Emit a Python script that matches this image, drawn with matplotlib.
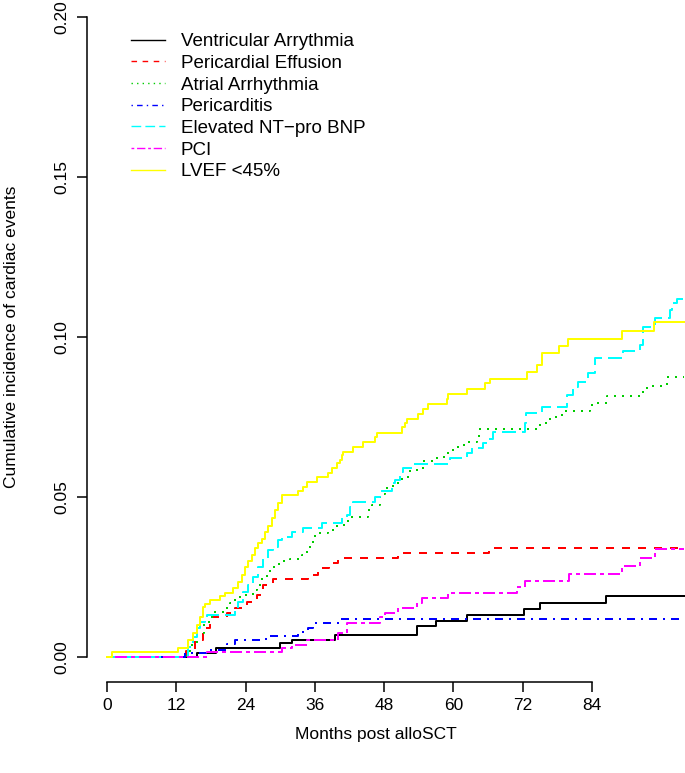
import matplotlib
matplotlib.use("Agg")
import matplotlib.pyplot as plt
from matplotlib.lines import Line2D

plt.rcParams['font.family'] = ['Liberation Sans', 'DejaVu Sans']

# months post alloSCT / cumulative incidence (step curves)
va_t = [0, 15.6, 18.8, 30.0, 32.0, 39.5, 53.7, 57.0, 62.3, 72.2, 75.0, 86.5, 100]
va_v = [0, 0.0014, 0.0028, 0.0043, 0.0052, 0.0069, 0.0097, 0.0113, 0.0130, 0.0149, 0.0170, 0.0192, 0.0192]

pe_t = [0, 13.6, 15.2, 16.6, 17.8, 20.7, 22.2, 24.2, 26.0, 27.1, 28.8, 34.8, 36.5, 38.5, 40.0, 50.4, 66.2, 100]
pe_v = [0, 0.002, 0.0053, 0.009, 0.0125, 0.0137, 0.0153, 0.0172, 0.0194, 0.0225, 0.0244, 0.0256, 0.0278,
        0.0293, 0.0308, 0.0324, 0.0342, 0.0342]

aa_t = [0, 13.8, 14.7, 15.6, 16.8, 18.2, 20.4, 21.3, 22.2, 23.0, 25.3, 26.0, 26.5, 27.7, 28.2, 29.1, 30.3,
        31.7, 33.8, 34.6, 35.5, 36.0, 38.3, 39.8, 41.7, 45.2, 45.9, 47.3, 48.1, 49.5, 51.1, 52.1, 53.3, 54.7,
        57.2, 59.1, 60.8, 62.3, 64.1, 64.4, 75.0, 76.7, 78.8, 83.7, 84.9, 86.6, 92.8, 93.7, 97.0, 100]
aa_v = [0, 0.002, 0.0044, 0.0075, 0.011, 0.014, 0.0153, 0.0169, 0.018, 0.0194, 0.021, 0.022, 0.0244, 0.026,
        0.028, 0.029, 0.030, 0.0306, 0.0319, 0.0344, 0.036, 0.0387, 0.0397, 0.0412, 0.0438, 0.046, 0.0475,
        0.051, 0.0528, 0.0544, 0.056, 0.058, 0.0584, 0.0613, 0.0625, 0.0647, 0.0662, 0.0672, 0.0687, 0.0712,
        0.073, 0.075, 0.077, 0.0788, 0.0794, 0.0816, 0.084, 0.0847, 0.0875, 0.0875]

pc_t = [0, 13.5, 17.8, 20.8, 22.2, 27.5, 33.1, 34.8, 35.7, 40.4, 100]
pc_v = [0, 0.0012, 0.0022, 0.0040, 0.0053, 0.0065, 0.0078, 0.009, 0.0106, 0.0119, 0.0119]

bnp_t = [0, 14.0, 14.9, 15.6, 16.1, 17.0, 17.3, 22.2, 22.7, 23.6, 24.4, 25.3, 26.2, 27.0, 27.9, 28.8, 29.6,
         30.3, 32.0, 33.9, 37.2, 40.7, 41.6, 42.1, 42.6, 46.4, 47.3, 49.4, 49.9, 50.7, 51.3, 52.8, 59.4, 62.3,
         63.2, 65.1, 65.8, 66.9, 72.4, 72.6, 75.3, 79.7, 80.7, 81.6, 83.3, 84.5, 89.4, 92.3, 92.8, 94.9, 97.5,
         97.9, 98.7, 100]
bnp_v = [0, 0.003, 0.0063, 0.009, 0.011, 0.0125, 0.013, 0.0153, 0.0172, 0.0203, 0.0225, 0.025, 0.028, 0.031,
         0.0334, 0.0344, 0.0366, 0.0375, 0.039, 0.0403, 0.0419, 0.0434, 0.0444, 0.047, 0.0484, 0.050, 0.052,
         0.0544, 0.0553, 0.0578, 0.059, 0.0603, 0.0622, 0.0637, 0.0653, 0.0669, 0.068, 0.0703, 0.073, 0.0762,
         0.078, 0.0819, 0.0844, 0.086, 0.0887, 0.0934, 0.0956, 0.0975, 0.103, 0.106, 0.1084, 0.1106, 0.112, 0.112]

pci_t = [0, 17.3, 30.3, 32.0, 34.6, 40.0, 41.6, 47.3, 48.1, 50.4, 53.7, 54.6, 59.1, 71.0, 72.4, 80.0, 89.2,
         92.3, 94.9, 100]
pci_v = [0, 0.0017, 0.0028, 0.0037, 0.0053, 0.0075, 0.0106, 0.0126, 0.0138, 0.0153, 0.0169, 0.0184, 0.020,
         0.022, 0.0237, 0.026, 0.0284, 0.031, 0.0337, 0.0337]

lv_t = [0, 0.8, 12.3, 14.0, 14.9, 15.6, 16.1, 16.6, 17.0, 17.8, 19.6, 20.4, 21.8, 22.7, 23.4, 23.9, 24.4, 25.1,
        25.6, 26.2, 26.8, 27.4, 27.9, 28.6, 29.1, 29.6, 30.3, 33.1, 33.9, 34.6, 36.4, 38.3, 39.0, 39.8, 40.4,
        40.7, 40.9, 42.6, 44.3, 46.4, 46.8, 51.1, 51.6, 52.0, 53.9, 54.7, 55.6, 58.9, 59.1, 62.3, 65.5, 66.3,
        72.7, 74.5, 75.3, 78.3, 79.8, 89.2, 94.7, 100]
lv_v = [0, 0.0017, 0.0028, 0.0053, 0.0075, 0.010, 0.0125, 0.0156, 0.0166, 0.0178, 0.019, 0.020, 0.0216, 0.0234,
        0.0256, 0.028, 0.030, 0.032, 0.034, 0.0356, 0.037, 0.039, 0.041, 0.0434, 0.046, 0.048, 0.0506, 0.052,
        0.053, 0.0548, 0.0562, 0.0575, 0.059, 0.0606, 0.0616, 0.063, 0.064, 0.0656, 0.0672, 0.0688, 0.070,
        0.0718, 0.073, 0.0744, 0.076, 0.0775, 0.079, 0.0806, 0.0822, 0.0838, 0.0856, 0.087, 0.089, 0.0912,
        0.095, 0.0972, 0.0994, 0.102, 0.1048, 0.1048]

labels = ["Ventricular Arrythmia", "Pericardial Effusion", "Atrial Arrhythmia", "Pericarditis",
          "Elevated NT\u2212pro BNP", "PCI", "LVEF <45%"]
colors = ["#000000", "#FF0000", "#00CD00", "#0000FF", "#00FFFF", "#FF00FF", "#FFFF00"]
# R lty 1..6, then solid again
styles = ["-", (0, (4, 4)), (0, (1, 3)), (0, (1, 3, 4, 3)), (0, (7, 3)), (0, (2, 2, 6, 2)), "-"]
curves = [(va_t, va_v), (pe_t, pe_v), (aa_t, aa_v), (pc_t, pc_v), (bnp_t, bnp_v), (pci_t, pci_v), (lv_t, lv_v)]

W, H = 685, 773
fig = plt.figure(figsize=(W / 100, H / 100), dpi=100)
# axes box placed in pixels: left spine x=87, bottom spine y=682, top y=10
ax = fig.add_axes([87 / W, (H - 682) / H, (W - 87) / W, (682 - 10) / H])

for (t, v), c, ls in zip(curves, colors, styles):
    ax.step(t, v, where="post", color=c, linestyle=ls, linewidth=1.44)

ax.set_xlim(-3.46, 100.1)
ax.set_ylim(-0.0078, 0.2022)

for s in ["top", "right"]:
    ax.spines[s].set_visible(False)
ax.spines["left"].set_bounds(0, 0.2)
ax.spines["bottom"].set_bounds(0, 84)
ax.spines["left"].set_linewidth(1.1)
ax.spines["bottom"].set_linewidth(1.1)

ax.set_xticks(range(0, 85, 12))
ax.set_yticks([0, 0.05, 0.10, 0.15, 0.20])
ax.set_yticklabels(["0.00", "0.05", "0.10", "0.15", "0.20"], rotation=90, va="center")
ax.tick_params(axis="both", length=7.5, width=1.1, labelsize=12.5, colors="black")
ax.tick_params(axis="x", pad=4)
ax.tick_params(axis="y", pad=5)

ax.set_xlabel("Months post alloSCT", fontsize=12.5)
ax.set_ylabel("Cumulative incidence of cardiac events", fontsize=12.5)
ax.xaxis.set_label_coords(376 / W, (H - 735) / H, transform=fig.transFigure)
ax.xaxis.label.set_va("center")
ax.yaxis.set_label_coords(12 / W, (H - 337) / H, transform=fig.transFigure)
ax.yaxis.label.set_va("center")

handles = [Line2D([], [], color=c, linestyle=ls, linewidth=1.0) for c, ls in zip(colors, styles)]
ax.legend(handles, labels, loc="upper left", bbox_to_anchor=(131 / W, (H - 33) / H),
          bbox_transform=fig.transFigure, frameon=False, fontsize=13.5, borderpad=0,
          handlelength=1.81, handletextpad=0.85, labelspacing=0.245, borderaxespad=0)

fig.savefig("out.png", dpi=100)
